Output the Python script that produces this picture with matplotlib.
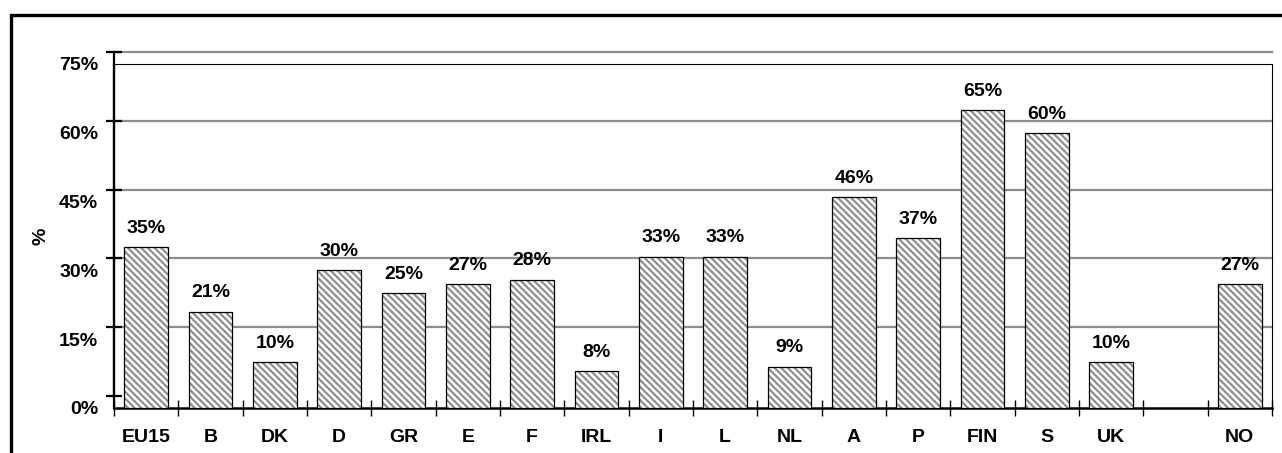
import numpy as np
import matplotlib
matplotlib.use('Agg')
import matplotlib.pyplot as plt
from matplotlib.patches import Rectangle

# data (share in %), blank slot before NO
countries = ['EU15', 'B', 'DK', 'D', 'GR', 'E', 'F', 'IRL', 'I', 'L', 'NL',
             'A', 'P', 'FIN', 'S', 'UK', '', 'NO']
values = [35, 21, 10, 30, 25, 27, 28, 8, 33, 33, 9, 46, 37, 65, 60, 10, np.nan, 27]
y_ticks = [0, 15, 30, 45, 60, 75]

plt.rcParams['font.family'] = ['Liberation Sans', 'DejaVu Sans']
plt.rcParams['font.weight'] = 'bold'
plt.rcParams['font.size'] = 14
plt.rcParams['hatch.linewidth'] = 1.5

W, H = 1282, 453
fig = plt.figure(figsize=(W / 100, H / 100), dpi=100)

# plot area in pixels
left, right, bottom, top = 114, 1272, 408, 64
shift = 12  # the gridline / tick layer sits a bit higher than the bars
box = [left / W, (H - bottom) / H, (right - left) / W, (bottom - top) / H]

# gridlines and y tick marks
gax = fig.add_axes([box[0], box[1] + shift / H, box[2], box[3]])
gax.set_xlim(0, 1)
gax.set_ylim(0, 75)
gax.patch.set_visible(False)
for s in ['top', 'right', 'bottom']:
    gax.spines[s].set_visible(False)
gax.spines['left'].set_linewidth(1.6)
gax.set_xticks([])
gax.set_yticks(y_ticks)
gax.tick_params(axis='y', direction='inout', length=12, width=1.6, labelleft=False)
for v in y_ticks[1:]:
    gax.axhline(v, color='#8c8c8c', lw=1.6, zorder=0, clip_on=False)

# bars: grey hatch first, black outline on top
ax = fig.add_axes(box)
ax.patch.set_visible(False)
x = np.arange(len(countries))
vals = np.array(values, dtype=float)
ax.bar(x, vals, width=0.68, color='white', edgecolor='#8a8a8a', linewidth=0,
       hatch='\\' * 5, zorder=3)
ax.bar(x, vals, width=0.68, fill=False, edgecolor='black', linewidth=0.9, zorder=4)
for xi, v in zip(x, vals):
    if np.isnan(v):
        continue
    ax.annotate(f'{v:.0f}%', (xi, v), xytext=(0, 13.5), textcoords='offset points',
                ha='center', va='center', fontweight='bold')

ax.set_xlim(-0.5, len(countries) - 0.5)
ax.set_ylim(0, 75)
ax.set_xticks(x)
ax.set_xticklabels(countries, fontweight='bold')
ax.set_xticks(np.arange(len(countries) + 1) - 0.5, minor=True)
ax.tick_params(axis='x', which='major', length=0, pad=15)
ax.tick_params(axis='x', which='minor', direction='inout', length=12, width=1)
ax.set_yticks(y_ticks)
ax.set_yticklabels([f'{v}%' for v in y_ticks], fontweight='bold')
ax.tick_params(axis='y', length=0, pad=11.5)
ax.set_ylabel('%', fontweight='bold')
ax.yaxis.set_label_coords(-0.056, 0.5)

for s in ['top', 'right']:
    ax.spines[s].set_linewidth(0.8)
ax.spines['bottom'].set_linewidth(1.8)
ax.spines['left'].set_linewidth(1.6)

# outer frame (only top and left edges are in view)
fig.add_artist(Rectangle((10.5 / W, -1), 5, 1 + (H - 14.5) / H,
                         transform=fig.transFigure, fill=False, lw=2.4,
                         ec='black', clip_on=False))

fig.savefig('out.png', dpi=100)
